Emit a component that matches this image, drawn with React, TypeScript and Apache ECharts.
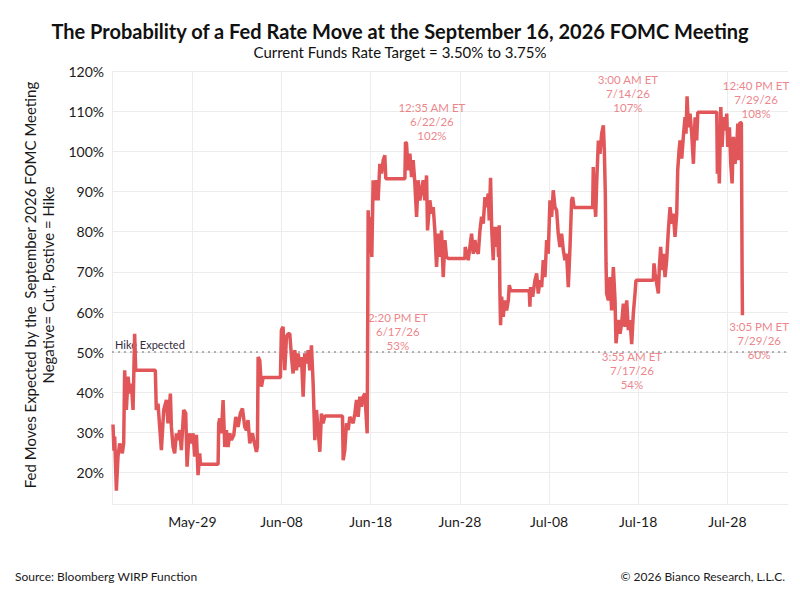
import { useEffect, useRef } from "react";
import * as echarts from "echarts";

// x values are days counted from May-19 (May-29 = 10, Jun-18 = 30, Jul-28 = 70)
const xTickValues = [10, 20, 30, 40, 50, 60, 70];
const xTickLabels = ["May-29", "Jun-08", "Jun-18", "Jun-28", "Jul-08", "Jul-18", "Jul-28"];
const yTickValues = [20, 30, 40, 50, 60, 70, 80, 90, 100, 110, 120];
const hikeLevel = 50;

// [day, % probability]
const lateMay: [number, number][] = [
    [1.09, 32], [1.2, 25.5], [1.28, 29], [1.47, 15.5], [1.65, 24], [1.84, 27.3], [2.0, 26],
    [2.14, 24.8], [2.29, 27.3], [2.4, 45.5], [2.59, 35.6], [2.78, 43.9], [2.96, 39.7],
    [3.15, 42.2], [3.34, 35.6], [3.52, 54.6], [3.64, 45.5], [5.84, 45.5], [5.95, 35.6],
    [6.14, 37.2], [6.33, 31.4], [6.52, 25.6], [6.78, 35.6], [7.08, 38.1], [7.26, 32.3],
    [7.53, 39.7], [7.64, 31.4], [7.83, 26.4], [8.01, 24.8], [8.2, 29.8], [8.39, 28.1],
    [8.57, 30.6], [8.76, 25.6], [9.02, 35.6], [9.25, 34.8], [9.4, 21.5], [9.62, 29.8],
    [9.88, 27.3], [10.07, 29.8], [10.26, 24], [10.45, 29.4], [10.63, 19.4], [10.82, 24.8],
    [10.9, 22.1], [12.88, 22.1], [12.95, 32.3], [13.06, 33.5], [13.25, 29.8], [13.44, 38.1],
    [13.63, 26.4], [13.81, 30.6], [14.0, 26.4], [14.19, 29.8], [14.37, 28.1], [14.64, 29.4],
    [14.86, 33.9], [15.12, 31.4], [15.38, 34.8], [15.61, 36], [15.87, 31.4], [16.06, 30.6],
    [16.24, 33.1], [16.43, 27.3], [16.73, 29.8], [16.88, 28.1], [17.18, 25.2], [17.29, 26.4],
    [17.37, 48.8], [17.55, 48], [17.74, 41.4], [17.93, 43.7], [19.87, 43.7], [19.98, 55.5],
];

const june: [number, number][] = [
    [20.17, 56.3], [20.36, 45.5], [20.55, 53.8], [20.73, 54.6], [20.92, 54.6], [21.11, 48.8],
    [21.29, 44.7], [21.48, 50.5], [21.67, 45.5], [21.86, 49.7], [22.04, 46.3], [22.23, 48.8],
    [22.42, 38.9], [22.6, 49.7], [22.79, 47.2], [22.98, 50.5], [23.16, 45.5], [23.35, 51.7],
    [23.54, 42.2], [23.73, 28.1], [23.91, 35.6], [24.1, 30.6], [24.29, 25.2], [24.47, 34.7],
    [24.66, 32.3], [24.85, 34.1], [26.83, 34.1], [26.91, 23.1], [27.09, 25.6], [27.28, 32.3],
    [27.47, 30.6], [27.65, 33.9], [27.84, 33.1], [28.03, 32.3], [28.22, 34.8], [28.4, 38.1],
    [28.59, 33.9], [28.78, 38.9], [28.96, 36.4], [29.15, 38.9], [29.34, 39.7], [29.6, 29.8],
    [29.67, 62.1], [29.71, 85.3], [29.82, 74.6], [29.97, 83.7], [30.12, 73.7], [30.27, 92.8],
    [30.46, 87.8], [30.65, 92.8], [30.83, 87.8], [31.02, 96.9], [31.21, 94.5], [31.4, 97.8],
    [31.58, 99], [31.69, 93.2], [33.83, 93.2], [33.9, 102.3], [34.01, 102], [34.2, 95.3],
    [34.39, 99.4], [34.58, 93.6], [34.76, 97.8], [34.95, 92], [35.14, 83.7], [35.32, 92.8],
    [35.51, 87.8], [35.7, 90.3], [35.88, 92.8], [36.07, 87.8], [36.26, 94], [36.37, 80.3],
    [36.63, 87.8], [36.82, 84.5], [37.01, 86.1], [37.19, 80.3], [37.38, 71.2], [37.57, 79.5],
    [37.76, 73.7], [37.94, 80.3], [38.13, 68.7], [38.32, 77.9], [38.5, 73.7], [38.69, 73.3],
];

const earlyJuly: [number, number][] = [
    [40.56, 73.3], [40.6, 76.2], [40.75, 74.5], [40.93, 72.9], [41.12, 76.2], [41.31, 79.5],
    [41.5, 74.5], [41.68, 77.9], [41.87, 75.4], [42.06, 74.5], [42.25, 80.3], [42.43, 83.7],
    [42.62, 82], [42.81, 88.6], [42.99, 86.1], [43.18, 89.5], [43.29, 82.8], [43.44, 93.4],
    [43.56, 81.2], [43.74, 72.9], [43.85, 81.2], [44.04, 76.2], [44.19, 81.2], [44.34, 73.7],
    [44.41, 81.6], [44.49, 64.6], [44.56, 56.7], [44.68, 63.8], [44.86, 58.8], [45.05, 62.9],
    [45.24, 60.4], [45.43, 62.9], [45.54, 66.7], [45.69, 65.3], [47.78, 65.3], [47.85, 61.3],
    [47.93, 66.2], [48.16, 63.8], [48.42, 67.9], [48.61, 69.6], [48.79, 64.6], [48.98, 67.9],
    [49.17, 66.2], [49.35, 72.9], [49.54, 68.7], [49.73, 77.9], [49.91, 74.5], [50.1, 87.8],
    [50.29, 83.7], [50.47, 90.3], [50.66, 86.1], [50.85, 85.3], [51.03, 79.5], [51.22, 76.2],
    [51.41, 79.5], [51.6, 75.4], [51.78, 72.9], [51.97, 74.5], [52.16, 66.2], [52.35, 76.2],
    [52.53, 87.8], [52.65, 88.6], [52.8, 86], [54.89, 86], [54.96, 96.1], [55.04, 89.5],
    [55.23, 83.7], [55.34, 92], [55.53, 102.7], [55.71, 99.4], [55.9, 104.4], [56.09, 106.5],
    [56.2, 100.2], [56.31, 89.5], [56.39, 72.1], [56.46, 64.6], [56.65, 62.9], [56.84, 68.7],
    [57.02, 60.4], [57.21, 71.2], [57.4, 62.9], [57.51, 52.2], [57.77, 58], [57.96, 54.6],
    [58.14, 57.1], [58.33, 62.1], [58.52, 56.3], [58.71, 62.9], [58.89, 55.5],
];

const lateJuly: [number, number][] = [
    [59.08, 58], [59.27, 52], [59.45, 59.6], [59.64, 64.6], [59.75, 67.9], [61.69, 67.9],
    [61.77, 72.1], [61.89, 69.6], [62.07, 67.1], [62.26, 64.6], [62.37, 71.2], [62.52, 76.2],
    [62.67, 70.4], [62.82, 74.5], [63.01, 68.7], [63.19, 72.9], [63.38, 80.3], [63.57, 86.1],
    [63.76, 82], [63.94, 84.5], [64.13, 78.7], [64.32, 84.5], [64.43, 95.3], [64.58, 100.2],
    [64.69, 102.7], [64.88, 98.2], [65.06, 103.6], [65.25, 108.5], [65.36, 104.4], [65.48, 113.7],
    [65.63, 106], [65.81, 109.4], [66.0, 104.4], [66.19, 96.9], [66.38, 108.5], [66.56, 102.7],
    [66.68, 109.7], [68.81, 109.7], [68.88, 94.4], [68.99, 101.1], [69.1, 92], [69.26, 111],
    [69.41, 101.1], [69.56, 108.5], [69.74, 105.2], [69.93, 109.4], [70.04, 101.1], [70.23, 106],
    [70.38, 96.9], [70.53, 92], [70.68, 103.6], [70.86, 96.9], [71.05, 101.1], [71.17, 106.9],
    [71.28, 97.8], [71.42, 107.3], [71.57, 107], [71.65, 71.2], [71.69, 59.2],
];

// callout labels, placed in data units (day, %)
const noteDays = [36.86, 58.85, 73.22, 33.04, 59.3, 73.56];
const noteValues = [107.5, 114.4, 112.9, 55.2, 45.5, 53];
const noteTexts = [
    "12:35 AM ET\n6/22/26\n102%",
    "3:00 AM ET\n7/14/26\n107%",
    "12:40 PM ET\n7/29/26\n108%",
    "2:20 PM ET\n6/17/26\n53%",
    "3:55 AM ET\n7/17/26\n54%",
    "3:05 PM ET\n7/29/26\n60%",
];

const RED = "#e15759";
const FONT = "Lato";

function App() {
    const ref = useRef<HTMLDivElement>(null);

    useEffect(() => {
        document.body.style.margin = "0";
        if (!ref.current) return;
        const chart = echarts.init(ref.current, undefined, { renderer: "svg" });

        const lineData = [...lateMay, ...june, ...earlyJuly, ...lateJuly];

        chart.setOption({
            animation: false,
            backgroundColor: "#ffffff",
            textStyle: { fontFamily: FONT },
            grid: { left: 112, right: 12, top: 71, bottom: 96 },
            xAxis: {
                type: "value",
                min: 0.98,
                max: 76.8,
                axisLine: { show: true, lineStyle: { color: "#ececec" } },
                axisTick: { show: false, customValues: xTickValues },
                axisLabel: {
                    customValues: xTickValues,
                    formatter: (v: number) => xTickLabels[xTickValues.indexOf(Math.round(v))] ?? "",
                    color: "#1a1a1a",
                    fontSize: 14,
                    margin: 10,
                    fontFamily: FONT,
                },
                splitLine: { show: true, lineStyle: { color: "#ececec" } },
            },
            yAxis: {
                type: "value",
                min: 12.2,
                max: 120,
                axisLine: { show: true, lineStyle: { color: "#ececec" } },
                axisTick: { show: false, customValues: yTickValues },
                axisLabel: {
                    customValues: yTickValues,
                    formatter: (v: number) => `${v}%`,
                    color: "#1a1a1a",
                    fontSize: 14,
                    margin: 8,
                    fontFamily: FONT,
                },
                splitLine: { show: true, lineStyle: { color: "#ececec" } },
            },
            series: [
                {
                    type: "line",
                    data: lineData,
                    symbol: "none",
                    lineStyle: { color: RED, width: 3.5 },
                    z: 3,
                    markLine: {
                        silent: true,
                        symbol: "none",
                        z: 1,
                        data: [{ yAxis: hikeLevel }],
                        lineStyle: { type: [2, 4], color: "#9a9a9a", width: 1.5 },
                        label: {
                            show: true,
                            position: "insideStartTop",
                            formatter: "Hike Expected",
                            color: "#332a3f",
                            fontSize: 11,
                            distance: [3, 2],
                            fontFamily: FONT,
                        },
                    },
                },
                {
                    type: "scatter",
                    silent: true,
                    symbolSize: 0,
                    z: 4,
                    data: noteDays.map((d, i) => ({
                        value: [d, noteValues[i]],
                        label: { formatter: noteTexts[i] },
                    })),
                    label: {
                        show: true,
                        position: "inside",
                        color: "#e8646a",
                        fontSize: 11.5,
                        lineHeight: 14,
                        align: "center",
                        fontFamily: FONT,
                    },
                },
            ],
            graphic: [
                {
                    type: "text",
                    x: 400,
                    y: 31,
                    style: {
                        text: "The Probability of a Fed Rate Move at the September 16, 2026 FOMC Meeting",
                        font: `bold 20px ${FONT}`,
                        fill: "#111",
                        textAlign: "center",
                        textVerticalAlign: "middle",
                    },
                },
                {
                    type: "text",
                    x: 400,
                    y: 52,
                    style: {
                        text: "Current Funds Rate Target = 3.50% to 3.75%",
                        font: `15px ${FONT}`,
                        fill: "#111",
                        textAlign: "center",
                        textVerticalAlign: "middle",
                    },
                },
                {
                    type: "text",
                    x: 39,
                    y: 285,
                    rotation: Math.PI / 2,
                    style: {
                        text: "Fed Moves Expected by the  September 2026 FOMC Meeting\nNegative= Cut, Postive = Hike",
                        font: `15px ${FONT}`,
                        lineHeight: 18,
                        fill: "#1a1a1a",
                        textAlign: "center",
                        textVerticalAlign: "middle",
                    },
                },
                {
                    type: "text",
                    x: 15,
                    y: 576,
                    style: {
                        text: "Source: Bloomberg WIRP Function",
                        font: `12px ${FONT}`,
                        fill: "#1a1a1a",
                        textAlign: "left",
                        textVerticalAlign: "middle",
                    },
                },
                {
                    type: "text",
                    x: 785,
                    y: 576,
                    style: {
                        text: "\u00a9 2026 Bianco Research, L.L.C.",
                        font: `12px ${FONT}`,
                        fill: "#1a1a1a",
                        textAlign: "right",
                        textVerticalAlign: "middle",
                    },
                },
            ],
        });

        return () => {
            chart.dispose();
        };
    }, []);

    return <div ref={ref} style={{ width: "800px", height: "600px" }} />;
}

export default App;
